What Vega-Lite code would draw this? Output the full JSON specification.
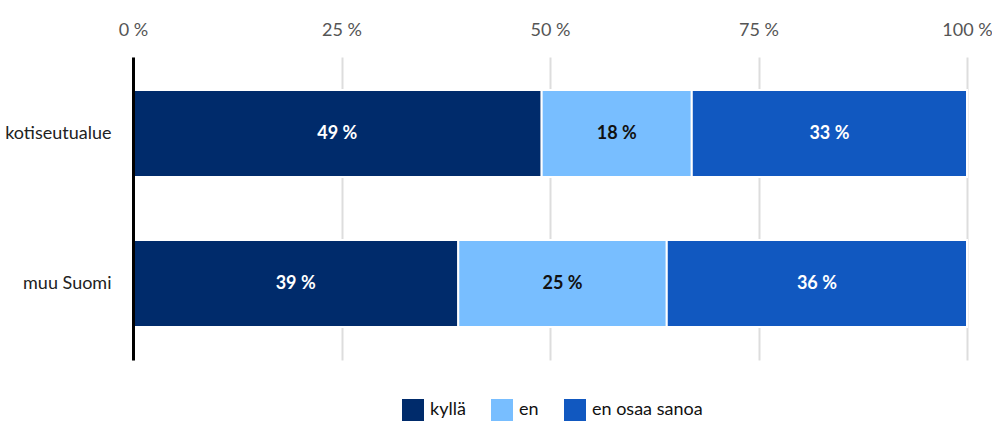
{
  "$schema": "https://vega.github.io/schema/vega-lite/v6.json",
  "width": 834,
  "height": 303,
  "autosize": {"type": "none"},
  "padding": {"left": 133, "top": 57, "right": 25, "bottom": 61},
  "background": "white",
  "config": {
    "font": "Lato",
    "view": {"stroke": null}
  },
  "data": {
    "values": [
      {"alue": "kotiseutualue", "vastaus": "kyllä", "jarj": 1, "arvo": 49},
      {"alue": "kotiseutualue", "vastaus": "en", "jarj": 2, "arvo": 18},
      {"alue": "kotiseutualue", "vastaus": "en osaa sanoa", "jarj": 3, "arvo": 33},
      {"alue": "muu Suomi", "vastaus": "kyllä", "jarj": 1, "arvo": 39},
      {"alue": "muu Suomi", "vastaus": "en", "jarj": 2, "arvo": 25},
      {"alue": "muu Suomi", "vastaus": "en osaa sanoa", "jarj": 3, "arvo": 36}
    ]
  },
  "transform": [
    {"stack": "arvo", "groupby": ["alue"], "sort": [{"field": "jarj"}], "as": ["x0", "x1"]},
    {"calculate": "(datum.x0 + datum.x1) / 2", "as": "xm"},
    {"calculate": "datum.arvo + ' %'", "as": "label"}
  ],
  "encoding": {
    "y": {
      "field": "alue",
      "type": "nominal",
      "sort": ["kotiseutualue", "muu Suomi"],
      "scale": {"paddingInner": 0.42, "paddingOuter": 0.22},
      "axis": {
        "title": null,
        "ticks": false,
        "domain": true,
        "domainColor": "#000000",
        "domainWidth": 3,
        "labelFontSize": 18,
        "labelColor": "#222222",
        "labelPadding": 22,
        "zindex": 2
      }
    }
  },
  "layer": [
    {
      "mark": {"type": "bar", "stroke": "white", "strokeWidth": 2},
      "encoding": {
        "x": {
          "field": "x0",
          "type": "quantitative",
          "scale": {"domain": [0, 100], "nice": false},
          "axis": {
            "orient": "top",
            "title": null,
            "values": [0, 25, 50, 75, 100],
            "labelExpr": "datum.value + ' %'",
            "ticks": false,
            "domain": false,
            "grid": true,
            "gridColor": "#dddddd",
            "gridWidth": 2,
            "labelFontSize": 18,
            "labelColor": "#555555",
            "labelPadding": 18,
            "labelFlush": false,
            "zindex": 0
          }
        },
        "x2": {"field": "x1"},
        "color": {
          "field": "vastaus",
          "type": "nominal",
          "sort": ["kyllä", "en", "en osaa sanoa"],
          "scale": {
            "domain": ["kyllä", "en", "en osaa sanoa"],
            "range": ["#002B6B", "#78BEFF", "#1158C0"]
          },
          "legend": {
            "title": null,
            "orient": "none",
            "legendX": 269,
            "legendY": 342,
            "direction": "horizontal",
            "symbolType": "square",
            "symbolSize": 484,
            "symbolStrokeWidth": 0,
            "labelFontSize": 18,
            "labelColor": "#111111",
            "labelOffset": 6,
            "columnPadding": 25
          }
        }
      }
    },
    {
      "mark": {"type": "text", "fontSize": 18, "fontWeight": "bold"},
      "encoding": {
        "x": {"field": "xm", "type": "quantitative"},
        "text": {"field": "label"},
        "color": {
          "condition": {"test": "datum.vastaus === 'en'", "value": "#111111"},
          "value": "white"
        }
      }
    }
  ]
}
